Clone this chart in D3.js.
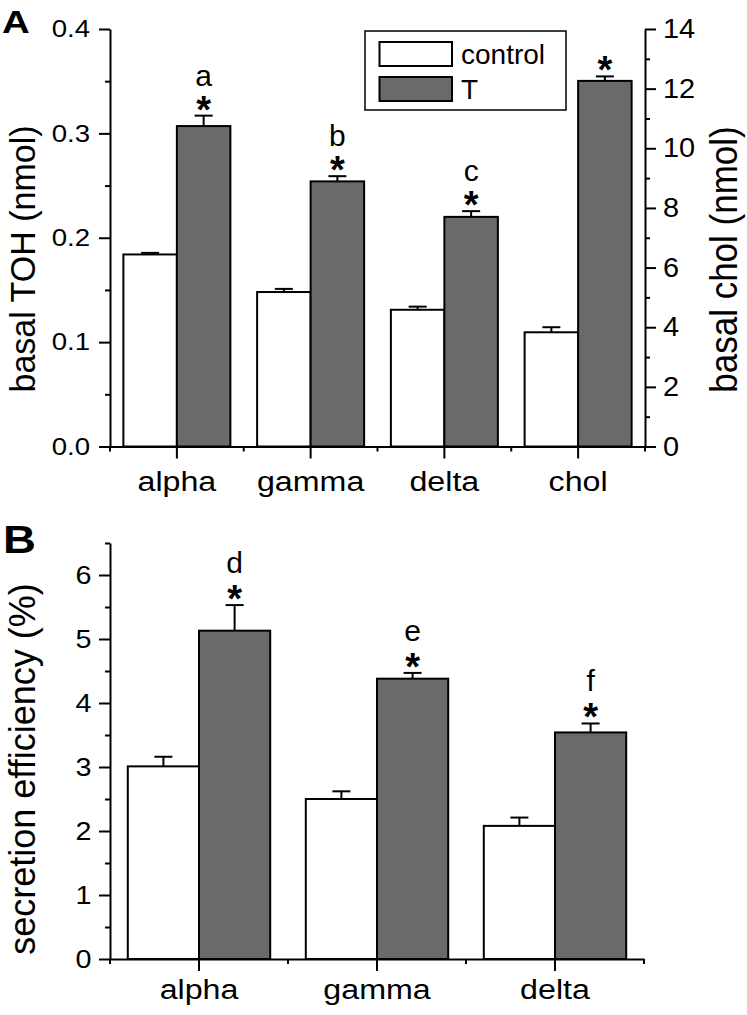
<!DOCTYPE html>
<html>
<head>
<meta charset="utf-8">
<script src="https://cdn.jsdelivr.net/npm/d3@7/dist/d3.min.js"></script>
<style>
  html, body { margin: 0; padding: 0; background: #fff; }
  svg { display: block; }
  text { font-family: "Liberation Sans", Arial, sans-serif; fill: #000; }
</style>
</head>
<body>
<div id="chart"></div>
<script>
// ---------- data ----------
const seriesNames = ["control", "T"];

// Panel A
const topCategories = ["alpha", "gamma", "delta", "chol"];
const topAxisSide = ["left", "left", "left", "right"];
const topControl = [0.184, 0.148, 0.131, 3.83];
const topControlErr = [0.0015, 0.003, 0.003, 0.17];
const topT = [0.307, 0.254, 0.220, 12.26];
const topTErr = [0.010, 0.005, 0.0055, 0.15];
const topLetters = ["a", "b", "c", ""];
const topLeftTicks = [0, 0.1, 0.2, 0.3, 0.4];
const topLeftMinor = [0.05, 0.15, 0.25, 0.35];
const topRightTicks = [0, 2, 4, 6, 8, 10, 12, 14];
const topRightMinor = [1, 3, 5, 7, 9, 11, 13];

// Panel B
const botCategories = ["alpha", "gamma", "delta"];
const botControl = [3.01, 2.50, 2.08];
const botControlErr = [0.15, 0.12, 0.13];
const botT = [5.13, 4.38, 3.54];
const botTErr = [0.40, 0.09, 0.14];
const botLetters = ["d", "e", "f"];
const botTicks = [0, 1, 2, 3, 4, 5, 6];
const botMinor = [0.5, 1.5, 2.5, 3.5, 4.5, 5.5, 6.5];

// ---------- styling ----------
const GRAY = "#6a6a6a";
const FILL = { control: "#ffffff", T: GRAY };
const SW = 2;

const svg = d3.select("#chart").append("svg")
  .attr("width", 747).attr("height", 1015);

function stretchTexts(sel, sx, fs) {
  sel.selectAll("text").each(function () {
    const t = d3.select(this);
    const x = +t.attr("x") || 0;
    t.attr("x", 0).attr("transform", `translate(${x},0) scale(${sx},1)`)
      .style("font-size", fs + "px")
      .attr("font-family", null);
  });
}

function styleAxis(g) {
  g.attr("font-family", null).attr("font-size", null);
  g.selectAll("path.domain").attr("stroke", "#000").attr("stroke-width", SW);
  g.selectAll(".tick line").attr("stroke", "#000").attr("stroke-width", SW);
}

function drawPanel(opts) {
  const { cats, control, controlErr, tVals, tErr, letters, yFor, x, y0, letterGap } = opts;
  const xSub = d3.scaleBand().domain(seriesNames).range([0, x.bandwidth()]).paddingOuter(0.25);
  const rows = [];
  cats.forEach((c, i) => {
    rows.push({ cat: c, s: "control", v: control[i], e: controlErr[i], y: yFor(i), letter: "", star: false });
    rows.push({ cat: c, s: "T", v: tVals[i], e: tErr[i], y: yFor(i), letter: letters[i], star: true });
  });
  const g = svg.append("g");
  g.selectAll("rect.bar").data(rows).join("rect")
    .attr("class", "bar")
    .attr("x", d => x(d.cat) + xSub(d.s))
    .attr("y", d => d.y(d.v))
    .attr("width", xSub.bandwidth())
    .attr("height", d => d.y(0) - d.y(d.v))
    .attr("fill", d => FILL[d.s])
    .attr("stroke", "#000").attr("stroke-width", SW);
  const cx = d => x(d.cat) + xSub(d.s) + xSub.bandwidth() / 2;
  g.selectAll("line.err").data(rows).join("line")
    .attr("class", "err")
    .attr("x1", cx).attr("x2", cx)
    .attr("y1", d => d.y(d.v)).attr("y2", d => d.y(d.v + d.e))
    .attr("stroke", "#000").attr("stroke-width", SW);
  g.selectAll("line.cap").data(rows).join("line")
    .attr("class", "cap")
    .attr("x1", d => cx(d) - 9).attr("x2", d => cx(d) + 9)
    .attr("y1", d => d.y(d.v + d.e)).attr("y2", d => d.y(d.v + d.e))
    .attr("stroke", "#000").attr("stroke-width", SW);
  const marked = rows.filter(d => d.star);
  g.selectAll("text.star").data(marked).join("text")
    .attr("class", "star")
    .attr("x", cx).attr("y", d => d.y(d.v + d.e) - 14 + 21)
    .attr("text-anchor", "middle")
    .style("font-size", "38px").style("font-weight", "bold")
    .text("*");
  g.selectAll("text.letter").data(marked.filter(d => d.letter)).join("text")
    .attr("class", "letter")
    .attr("x", cx).attr("y", d => d.y(d.v + d.e) - letterGap)
    .attr("text-anchor", "middle")
    .style("font-size", "30px")
    .text(d => d.letter);

  // x axis
  const xa = svg.append("g").attr("transform", `translate(0,${y0})`)
    .call(d3.axisBottom(x).tickSize(12).tickSizeOuter(0).tickPadding(0));
  styleAxis(xa);
  xa.selectAll("text").attr("dy", null).attr("y", opts.catY);
  stretchTexts(xa, 1.15, 28);
  const bounds = cats.map(c => x(c)).concat([x.range()[1]]);
  xa.selectAll("line.minor").data(bounds).join("line")
    .attr("class", "minor")
    .attr("x1", d => d).attr("x2", d => d).attr("y1", 0).attr("y2", 5)
    .attr("stroke", "#000").attr("stroke-width", SW);
}

// ---------- Panel A ----------
const xTop = d3.scaleBand().domain(topCategories).range([110, 645]);
const yTopL = d3.scaleLinear().domain([0, 0.4]).range([446.5, 29]);
const yTopR = d3.scaleLinear().domain([0, 14]).range([446.5, 29]);

drawPanel({
  cats: topCategories, control: topControl, controlErr: topControlErr,
  tVals: topT, tErr: topTErr, letters: topLetters,
  yFor: i => topAxisSide[i] === "right" ? yTopR : yTopL,
  x: xTop, y0: yTopL(0), letterGap: 30, catY: 45
});

const la = svg.append("g").attr("transform", "translate(110,0)")
  .call(d3.axisLeft(yTopL).tickValues(topLeftTicks).tickFormat(d3.format(".1f"))
    .tickSize(11).tickSizeOuter(0).tickPadding(9));
styleAxis(la);
stretchTexts(la, 1.15, 24);
const laM = svg.append("g").attr("transform", "translate(110,0)")
  .call(d3.axisLeft(yTopL).tickValues(topLeftMinor).tickFormat("").tickSize(5).tickSizeOuter(0));
styleAxis(laM); laM.select("path.domain").remove();

const ra = svg.append("g").attr("transform", "translate(645,0)")
  .call(d3.axisRight(yTopR).tickValues(topRightTicks).tickFormat(d3.format("d"))
    .tickSize(11).tickSizeOuter(0).tickPadding(7));
styleAxis(ra);
stretchTexts(ra, 1.07, 27);
const raM = svg.append("g").attr("transform", "translate(645,0)")
  .call(d3.axisRight(yTopR).tickValues(topRightMinor).tickFormat("").tickSize(5).tickSizeOuter(0));
styleAxis(raM); raM.select("path.domain").remove();

// axis titles A
svg.append("text").attr("transform", "translate(35,259) scale(1.05,1) rotate(-90)")
  .attr("text-anchor", "middle").style("font-size", "34px").text("basal TOH (nmol)");
svg.append("text").attr("transform", "translate(737,259.5) scale(1.1,1) rotate(-90)")
  .attr("text-anchor", "middle").style("font-size", "35px").text("basal chol (nmol)");

// legend
const lg = svg.append("g");
lg.append("rect").attr("x", 365).attr("y", 31).attr("width", 201).attr("height", 79)
  .attr("fill", "#fff").attr("stroke", "#000").attr("stroke-width", 1.5);
seriesNames.forEach((s, i) => {
  lg.append("rect").attr("x", 379.5).attr("y", 42 + i * 35).attr("width", 72.5).attr("height", 24)
    .attr("fill", FILL[s]).attr("stroke", "#000").attr("stroke-width", SW);
  lg.append("text").attr("x", 461).attr("y", 64 + i * 35).style("font-size", "28px").text(s);
});

svg.append("text").attr("transform", "translate(2,33) scale(1.2,1)")
  .style("font-size", "32px").style("font-weight", "bold").text("A");

// ---------- Panel B ----------
const xBot = d3.scaleBand().domain(botCategories).range([110, 644]);
const yBot = d3.scaleLinear().domain([0, 6.5]).range([959, 543]);

drawPanel({
  cats: botCategories, control: botControl, controlErr: botControlErr,
  tVals: botT, tErr: botTErr, letters: botLetters,
  yFor: () => yBot, x: xBot, y0: yBot(0), letterGap: 32, catY: 40
});

const lb = svg.append("g").attr("transform", "translate(110,0)")
  .call(d3.axisLeft(yBot).tickValues(botTicks).tickFormat(d3.format("d"))
    .tickSize(11).tickSizeOuter(0).tickPadding(7.5));
styleAxis(lb);
stretchTexts(lb, 1.15, 25);
const lbM = svg.append("g").attr("transform", "translate(110,0)")
  .call(d3.axisLeft(yBot).tickValues(botMinor).tickFormat("").tickSize(5).tickSizeOuter(0));
styleAxis(lbM); lbM.select("path.domain").remove();

svg.append("text").attr("transform", "translate(35,769) scale(1.0,1) rotate(-90)")
  .attr("text-anchor", "middle").style("font-size", "36px").text("secretion efficiency (%)");

svg.append("text").attr("transform", "translate(3,553) scale(1.2,1)")
  .style("font-size", "38px").style("font-weight", "bold").text("B");
</script>
</body>
</html>
